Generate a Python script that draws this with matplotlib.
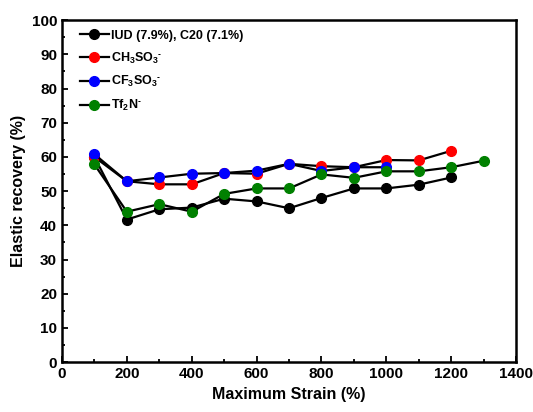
import numpy as np
import matplotlib.pyplot as plt
from matplotlib.ticker import MultipleLocator

plt.rcParams['font.family'] = ['Liberation Sans', 'DejaVu Sans']
plt.rcParams['font.weight'] = 'bold'
plt.rcParams['mathtext.fontset'] = 'custom'
plt.rcParams['mathtext.rm'] = 'Liberation Sans:bold'
plt.rcParams['mathtext.bf'] = 'Liberation Sans:bold'
plt.rcParams['mathtext.default'] = 'rm'

strain_iud = [100, 200, 300, 400, 500, 600, 700, 800, 900, 1000, 1100, 1200]
rec_iud = [60, 41.7, 44.7, 45.2, 47.8, 47, 45, 48, 50.8, 50.8, 51.9, 54]

strain_ch3 = [100, 200, 300, 400, 500, 600, 700, 800, 900, 1000, 1100, 1200]
rec_ch3 = [60, 52.9, 52, 52, 55.3, 55.1, 58, 57.3, 57, 59.1, 59, 61.8]

strain_cf3 = [100, 200, 300, 400, 500, 600, 700, 800, 900, 1000]
rec_cf3 = [60.8, 52.9, 54, 55.1, 55.3, 56, 58, 55.9, 57, 57]

strain_tf2 = [100, 200, 300, 400, 500, 600, 700, 800, 900, 1000, 1100, 1200, 1300]
rec_tf2 = [57.8, 44, 46.2, 44, 49.2, 50.8, 50.8, 54.9, 53.9, 55.8, 55.8, 57, 58.9]

labels = ['IUD (7.9%), C20 (7.1%)', 'CH$_3$SO$_3$$^{\u2011}$', 'CF$_3$SO$_3$$^{\u2011}$', 'Tf$_2$N$^{\u2011}$']
colors = ['black', 'red', 'blue', 'green']

fig = plt.figure(figsize=(5.33, 4.12), dpi=100)
ax = fig.add_axes([0.1163, 0.121, 0.852, 0.830])

series = [(strain_iud, rec_iud), (strain_ch3, rec_ch3), (strain_cf3, rec_cf3), (strain_tf2, rec_tf2)]
for (x, y), c, lab in zip(series, colors, labels):
    ax.plot(x, y, '-', color='black', lw=1.6, marker='o', markersize=7,
            markerfacecolor=c, markeredgecolor=c, label=lab)

ax.set_xlim(0, 1400)
ax.set_ylim(0, 100)
ax.xaxis.set_major_locator(MultipleLocator(200))
ax.xaxis.set_minor_locator(MultipleLocator(100))
ax.yaxis.set_major_locator(MultipleLocator(10))
ax.yaxis.set_minor_locator(MultipleLocator(5))
ax.tick_params(which='both', direction='in', labelsize=11, width=1.3)
ax.tick_params(which='major', length=4)
ax.tick_params(which='minor', length=2)
for s in ax.spines.values():
    s.set_linewidth(1.8)

ax.set_xlabel('Maximum Strain (%)', fontsize=11.5, fontweight='bold')
ax.set_ylabel('Elastic recovery (%)', fontsize=11.5, fontweight='bold')

ax.legend(loc='upper left', bbox_to_anchor=(0.015, 1.005), frameon=False, fontsize=9,
          handlelength=2.3, labelspacing=0.7, borderaxespad=0.5, handletextpad=0.2)

plt.savefig('out.png', dpi=100)
